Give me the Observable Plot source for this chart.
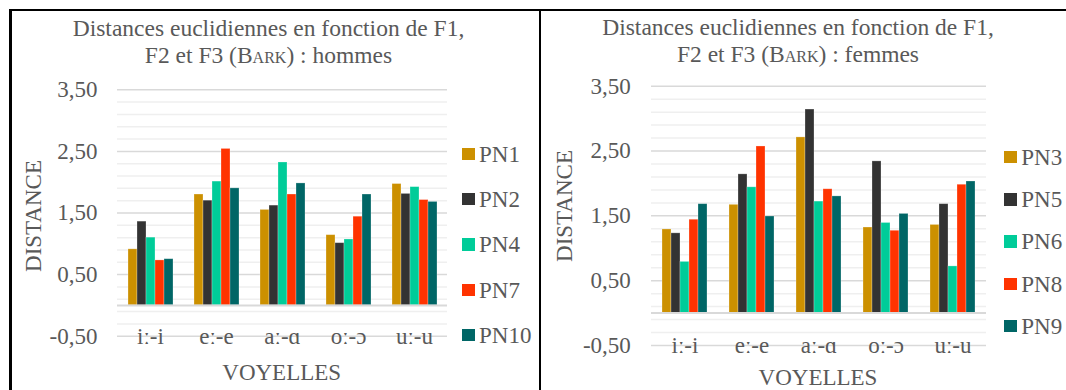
<!DOCTYPE html>
<html>
<head>
<meta charset="utf-8">
<script src="https://cdn.jsdelivr.net/npm/d3@7"></script>
<script src="https://cdn.jsdelivr.net/npm/@observablehq/plot@0.6"></script>
<style>
  body { margin: 0; background: #fff; }
  #page { position: relative; width: 1066px; height: 390px; overflow: hidden;
          font-family: 'Liberation Serif', Tinos, serif; color: #595959; }
  #page svg { position: absolute; top: 0; }
  #page svg text { font-family: 'Liberation Serif', Tinos, serif; }
  .title { position: absolute; text-align: center; font-size: 23.5px; line-height: 27px;
           white-space: nowrap; transform: translateX(-50%); font-family: 'Liberation Serif', Tinos, serif; }
  .sc { font-variant: small-caps; }
  .lbl { position: absolute; font-size: 23px; line-height: 23px; white-space: nowrap;
         font-family: 'Liberation Serif', Tinos, serif; }
  .ylab { transform: translate(-50%, -50%) rotate(-90deg); }
  .xlab { transform: translateX(-50%); }
  .swatch { position: absolute; width: 12.5px; height: 12.5px; }
  .frame { position: absolute; background: #000; }
</style>
</head>
<body>
<div id="page"></div>
<script>
// Vowel pairs on the x axis
const vowels = ["iː-i", "eː-e", "aː-ɑ", "oː-ɔ", "uː-u"];

// Speakers of each panel and their shared colour ramp
const menSpeakers = ["PN1", "PN2", "PN4", "PN7", "PN10"];
const womenSpeakers = ["PN3", "PN5", "PN6", "PN8", "PN9"];
const seriesColors = ["#cc9000", "#333333", "#00cc99", "#ff3300", "#006666"];

// Euclidean distances (Bark), one value per vowel pair — men
const pn1 = [0.91, 1.80, 1.55, 1.14, 1.97];
const pn2 = [1.36, 1.70, 1.62, 1.01, 1.81];
const pn4 = [1.10, 2.01, 2.32, 1.07, 1.92];
const pn7 = [0.73, 2.54, 1.80, 1.44, 1.71];
const pn10 = [0.75, 1.90, 1.98, 1.80, 1.68];

// Euclidean distances (Bark) — women
const pn3 = [1.29, 1.67, 2.71, 1.32, 1.36];
const pn5 = [1.23, 2.14, 3.14, 2.34, 1.68];
const pn6 = [0.79, 1.94, 1.72, 1.39, 0.72];
const pn8 = [1.44, 2.57, 1.91, 1.27, 1.98];
const pn9 = [1.68, 1.49, 1.80, 1.53, 2.03];

// Value axis ticks
const majorTicks = [-0.5, 0.5, 1.5, 2.5, 3.5];
const minorTicks = [-0.3, -0.1, 0.1, 0.3, 0.7, 0.9, 1.1, 1.3, 1.7, 1.9, 2.1, 2.3, 2.7, 2.9, 3.1, 3.3];

const page = document.getElementById("page");
const frMark = d => d.toFixed(2).replace(".", ",");

function drawPanel(speakers, rows, g) {
  const table = speakers.flatMap((s, j) =>
    vowels.map((v, i) => ({vowel: v, speaker: s, value: rows[j][i]})));

  const svg = Plot.plot({
    width: g.width, height: 390,
    marginLeft: g.ml, marginRight: g.mr, marginTop: g.mt, marginBottom: g.mb,
    style: {fontFamily: "'Liberation Serif', Tinos, serif", fontSize: "23px", color: "#595959",
            background: "none", overflow: "visible"},
    facet: {marginTop: 0, marginBottom: 0, marginLeft: 0, marginRight: 0},
    fx: {domain: vowels, padding: 0, axis: null},
    x: {domain: speakers, paddingInner: 0, paddingOuter: 1, axis: null},
    y: {domain: [-0.5, 3.5], axis: null},
    color: {domain: speakers, range: seriesColors},
    marks: [
      Plot.ruleY(minorTicks, {stroke: "#efefef", strokeWidth: 1.5}),
      Plot.ruleY(majorTicks, {stroke: "#d9d9d9", strokeWidth: 1.5}),
      Plot.barY(table, {fx: "vowel", x: "speaker", y: "value", fill: "speaker",
                        stroke: "#ffffff", strokeOpacity: 0.35, strokeWidth: 0.75}),
      Plot.ruleY([0], {stroke: "#d9d9d9", strokeWidth: 2}),
      Plot.axisY(majorTicks, {tickSize: 0, tickPadding: g.tp, tickFormat: frMark, label: null}),
      Plot.axisFx({anchor: "bottom", tickSize: 0, tickPadding: 0, lineAnchor: "middle", label: null})
    ]
  });
  svg.style.left = g.left + "px";
  page.appendChild(svg);

  // title
  const t = document.createElement("div");
  t.className = "title";
  t.style.left = g.tx + "px";
  t.style.top = g.ty + "px";
  t.innerHTML = `Distances euclidiennes en fonction de F1,<br>F2 et F3 (<span class="sc">Bark</span>) : ${g.group}`;
  page.appendChild(t);

  // axis titles
  const yl = document.createElement("div");
  yl.className = "lbl ylab";
  yl.style.left = g.ylx + "px";
  yl.style.top = g.yly + "px";
  yl.textContent = "DISTANCE";
  page.appendChild(yl);

  const xl = document.createElement("div");
  xl.className = "lbl xlab";
  xl.style.left = g.xlx + "px";
  xl.style.top = g.xly + "px";
  xl.textContent = "VOYELLES";
  page.appendChild(xl);

  // legend
  speakers.forEach((s, j) => {
    const cy = g.lgTop + j * g.lgStep;
    const sw = document.createElement("div");
    sw.className = "swatch";
    sw.style.left = g.lgX + "px";
    sw.style.top = (cy - 6.25) + "px";
    sw.style.background = seriesColors[j];
    page.appendChild(sw);
    const tx = document.createElement("div");
    tx.className = "lbl";
    tx.style.left = (g.lgX + 17) + "px";
    tx.style.top = (cy - 11.3) + "px";
    tx.textContent = s;
    page.appendChild(tx);
  });
}

drawPanel(menSpeakers, [pn1, pn2, pn4, pn7, pn10], {
  group: "hommes", left: 0, width: 540, ml: 117, mr: 93, mt: 89.3, mb: 54.3, tp: 20,
  tx: 268.5, ty: 15.3, ylx: 32.5, yly: 215.5, xlx: 281.7, xly: 360.7,
  lgX: 462, lgTop: 153.8, lgStep: 45.35
});

drawPanel(womenSpeakers, [pn3, pn5, pn6, pn8, pn9], {
  group: "femmes", left: 539, width: 527, ml: 111, mr: 79.3, mt: 85.7, mb: 45, tp: 20.7,
  tx: 798, ty: 14.3, ylx: 564, yly: 206, xlx: 818, xly: 365.7,
  lgX: 1004.3, lgTop: 157.2, lgStep: 42.25
});

// table borders around the two charts
[
  {left: 9, top: 9, width: 1057, height: 1.6},
  {left: 9, top: 9, width: 2.5, height: 381},
  {left: 539, top: 9, width: 2, height: 381}
].forEach(b => {
  const d = document.createElement("div");
  d.className = "frame";
  Object.assign(d.style, {left: b.left + "px", top: b.top + "px", width: b.width + "px", height: b.height + "px"});
  page.appendChild(d);
});
</script>
</body>
</html>
